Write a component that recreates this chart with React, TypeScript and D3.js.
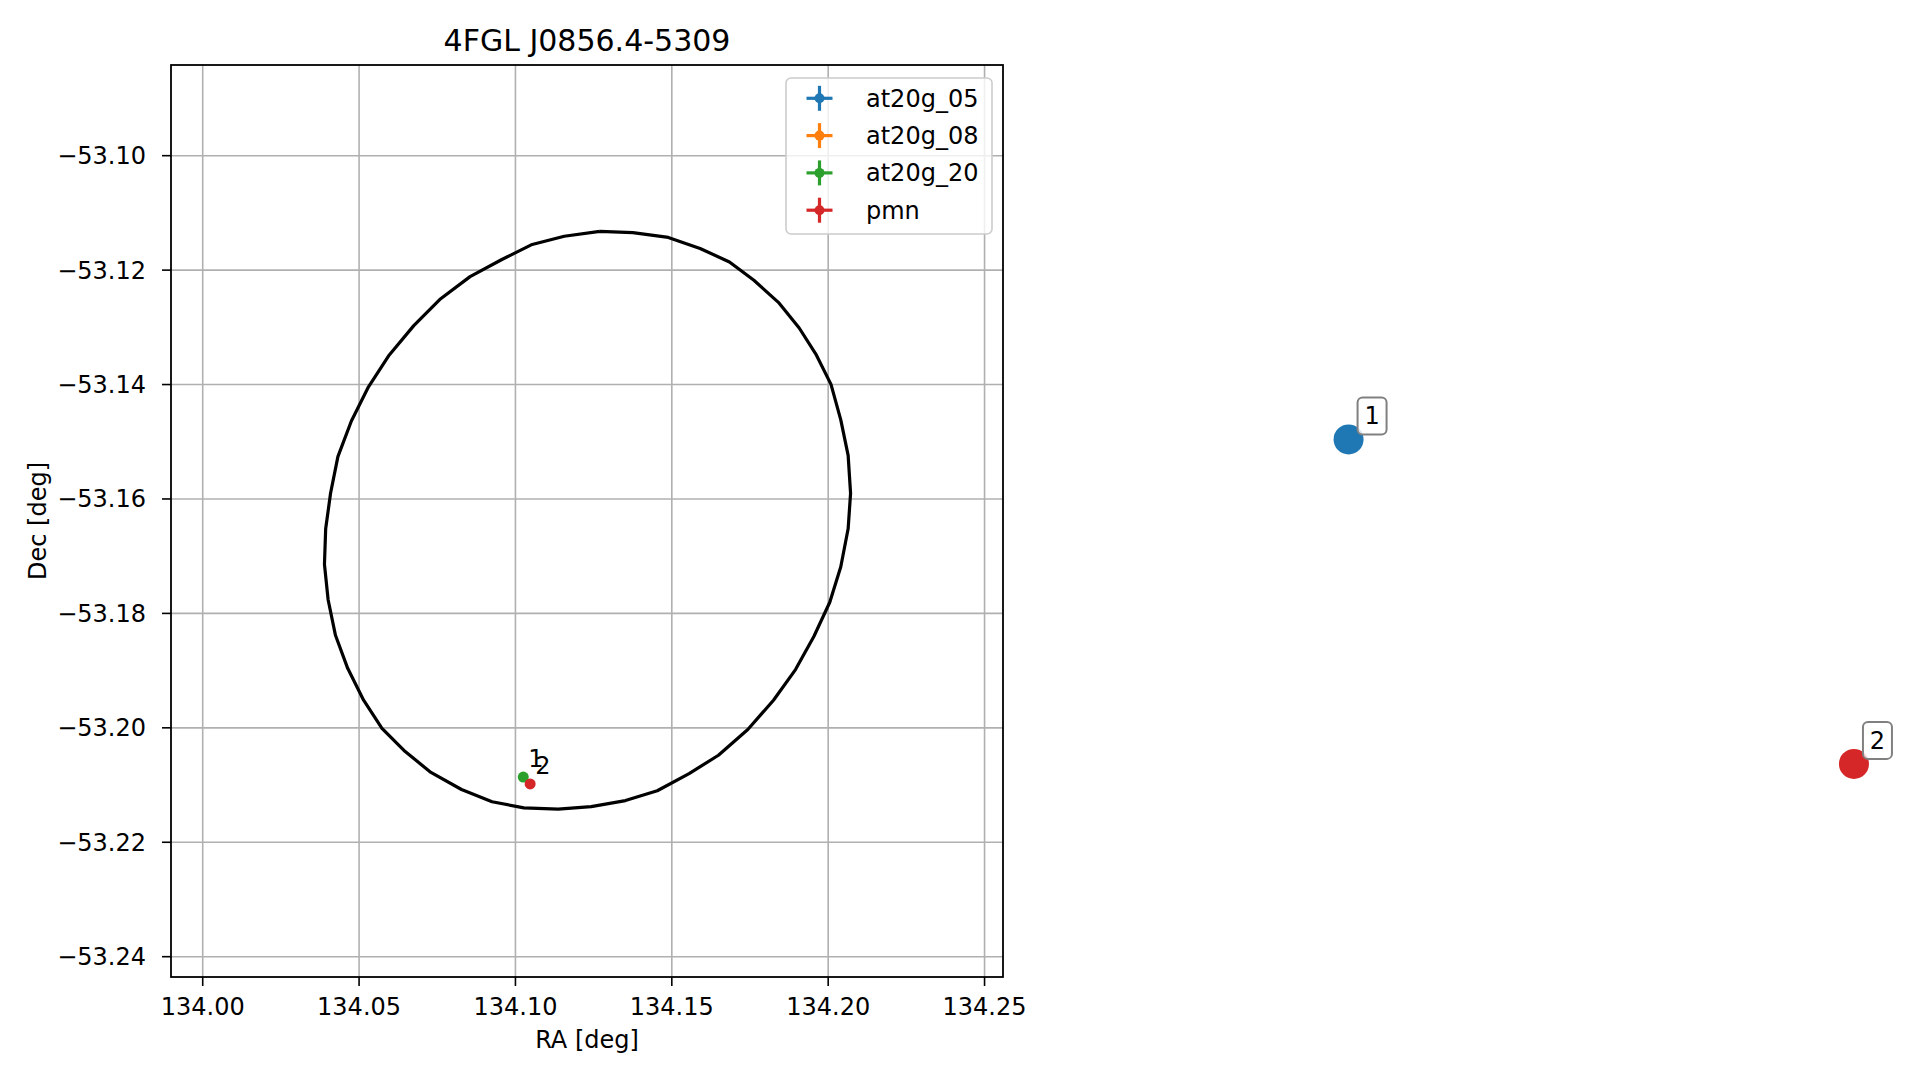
import React from "react";
import * as d3 from "d3";

// ---- data ----
const TITLE = "4FGL J0856.4-5309";
const X_TICKS = [134.0, 134.05, 134.1, 134.15, 134.2, 134.25];
const Y_TICKS = [-53.1, -53.12, -53.14, -53.16, -53.18, -53.2, -53.22, -53.24];
const X_DOMAIN = [133.98986, 134.2559];
const Y_DOMAIN = [-53.08415, -53.24355];

// Error ellipse outline (RA, Dec)
const ELLIPSE_RA = [
  134.12696, 134.13752, 134.14887, 134.15904, 134.16843, 134.17625, 134.18408, 134.19073,
  134.19621, 134.2009, 134.20403, 134.20638, 134.20716, 134.20638, 134.20403, 134.20051,
  134.19542, 134.18955, 134.18251, 134.1743, 134.16491, 134.15552, 134.14535, 134.13517,
  134.12422, 134.11365, 134.1027, 134.09253, 134.08275, 134.07297, 134.06475, 134.05732,
  134.05145, 134.04636, 134.04245, 134.0401, 134.03893, 134.03932, 134.04088, 134.04323,
  134.04754, 134.05301, 134.05966, 134.06749, 134.0761, 134.08549, 134.09566, 134.10505,
  134.11561, 134.12696,
];
const ELLIPSE_DEC = [
  -53.11322, -53.11344, -53.11429, -53.11622, -53.11857, -53.12178, -53.12563, -53.13012,
  -53.13483, -53.13997, -53.14617, -53.15237, -53.15901, -53.16521, -53.17184, -53.17805,
  -53.18404, -53.18982, -53.19517, -53.2003, -53.20479, -53.208, -53.211, -53.21271,
  -53.21378, -53.21421, -53.21399, -53.21292, -53.21078, -53.20779, -53.20415, -53.20009,
  -53.19517, -53.1896, -53.18383, -53.17762, -53.17142, -53.16521, -53.15901, -53.15259,
  -53.14638, -53.14039, -53.13483, -53.1297, -53.12499, -53.12114, -53.11814, -53.11558,
  -53.11408, -53.11322,
];

const LEGEND_LABELS = ["at20g_05", "at20g_08", "at20g_20", "pmn"];
const LEGEND_COLORS = ["#1f77b4", "#ff7f0e", "#2ca02c", "#d62728"];

// counterpart sources inside the plot
const SRC_RA = [134.1025, 134.1047];
const SRC_DEC = [-53.2086, -53.2098];
const SRC_COLORS = ["#2ca02c", "#d62728"];
const SRC_LABELS = ["1", "2"];

// large numbered markers (same coordinate frame, outside the axes)
const BIG_RA = [134.3664, 134.528];
const BIG_DEC = [-53.1496, -53.2063];
const BIG_COLORS = ["#1f77b4", "#d62728"];
const BIG_LABELS = ["1", "2"];

const W = 1919;
const H = 1080;
const FONT = "DejaVu Sans, Liberation Sans, sans-serif";

export default function App() {
  const left = 171, right = 1003, top = 65, bottom = 977;
  const x = d3.scaleLinear().domain(X_DOMAIN).range([left, right]);
  const y = d3.scaleLinear().domain(Y_DOMAIN).range([top, bottom]);
  const fmt = d3.format(".2f");

  const ellipsePts: [number, number][] = ELLIPSE_RA.map((ra, i) => [x(ra), y(ELLIPSE_DEC[i])]);
  const line = d3.line();

  const gridColor = "#b0b0b0";

  return (
    <svg
      width={W}
      height={H}
      style={{ position: "absolute", left: 0, top: 0, background: "#fff" }}
      fontFamily={FONT}
    >
      <defs>
        <clipPath id="axclip">
          <rect x={left} y={top} width={right - left} height={bottom - top} />
        </clipPath>
      </defs>
      <rect x={0} y={0} width={W} height={H} fill="#fff" />

      {/* grid */}
      {X_TICKS.map((t) => (
        <line key={"gx" + t} x1={x(t)} x2={x(t)} y1={top} y2={bottom} stroke={gridColor} strokeWidth={1.6} />
      ))}
      {Y_TICKS.map((t) => (
        <line key={"gy" + t} x1={left} x2={right} y1={y(t)} y2={y(t)} stroke={gridColor} strokeWidth={1.6} />
      ))}

      {/* ellipse */}
      <g clipPath="url(#axclip)">
        <path d={line(ellipsePts) || ""} fill="none" stroke="#000" strokeWidth={3.2} strokeLinejoin="round" />
        {SRC_RA.map((ra, i) => (
          <circle key={"s" + i} cx={x(ra)} cy={y(SRC_DEC[i])} r={5.5} fill={SRC_COLORS[i]} />
        ))}
      </g>
      {SRC_RA.map((ra, i) => (
        <text key={"sl" + i} x={x(ra) + 5} y={y(SRC_DEC[i]) - 10} fontSize={24} fill="#000">
          {SRC_LABELS[i]}
        </text>
      ))}

      {/* spines */}
      <rect x={left} y={top} width={right - left} height={bottom - top} fill="none" stroke="#000" strokeWidth={1.8} />

      {/* x ticks */}
      {X_TICKS.map((t) => (
        <g key={"xt" + t}>
          <line x1={x(t)} x2={x(t)} y1={bottom} y2={bottom + 9} stroke="#000" strokeWidth={1.6} />
          <text x={x(t)} y={bottom + 38} textAnchor="middle" fontSize={24} fill="#000">
            {fmt(t)}
          </text>
        </g>
      ))}
      {/* y ticks */}
      {Y_TICKS.map((t) => (
        <g key={"yt" + t}>
          <line x1={left - 9} x2={left} y1={y(t)} y2={y(t)} stroke="#000" strokeWidth={1.6} />
          <text x={left - 25} y={y(t) + 8.5} textAnchor="end" fontSize={24} fill="#000">
            {fmt(t)}
          </text>
        </g>
      ))}

      {/* labels */}
      <text x={(left + right) / 2} y={51} textAnchor="middle" fontSize={30} fill="#000">
        {TITLE}
      </text>
      <text x={(left + right) / 2} y={1048} textAnchor="middle" fontSize={24} fill="#000">
        RA [deg]
      </text>
      <text
        transform={`translate(${46},${(top + bottom) / 2}) rotate(-90)`}
        textAnchor="middle"
        fontSize={24}
        fill="#000"
      >
        Dec [deg]
      </text>

      {/* legend */}
      <g>
        <rect x={786} y={78} width={206} height={156} rx={5} ry={5} fill="#fff" fillOpacity={0.8} stroke="#cccccc" strokeWidth={1.6} />
        {LEGEND_LABELS.map((lab, i) => {
          const cy = 98.3 + i * 37.3;
          const cx = 819.5;
          return (
            <g key={"lg" + lab}>
              <line x1={cx - 13} x2={cx + 13} y1={cy} y2={cy} stroke={LEGEND_COLORS[i]} strokeWidth={3.2} />
              <line x1={cx} x2={cx} y1={cy - 12.5} y2={cy + 12.5} stroke={LEGEND_COLORS[i]} strokeWidth={3.2} />
              <circle cx={cx} cy={cy} r={5} fill={LEGEND_COLORS[i]} />
              <text x={866} y={cy + 8.5} fontSize={24} fill="#000">
                {lab}
              </text>
            </g>
          );
        })}
      </g>

      {/* big numbered markers */}
      {BIG_RA.map((ra, i) => {
        const cx = x(ra);
        const cy = y(BIG_DEC[i]);
        return (
          <g key={"b" + i}>
            <circle cx={cx} cy={cy} r={15} fill={BIG_COLORS[i]} />
            <rect x={cx + 9} y={cy - 42} width={29} height={37} rx={5} ry={5} fill="#fff" fillOpacity={0.8} stroke="#808080" strokeWidth={2} />
            <text x={cx + 23.5} y={cy - 15} textAnchor="middle" fontSize={24} fill="#000">
              {BIG_LABELS[i]}
            </text>
          </g>
        );
      })}
    </svg>
  );
}
